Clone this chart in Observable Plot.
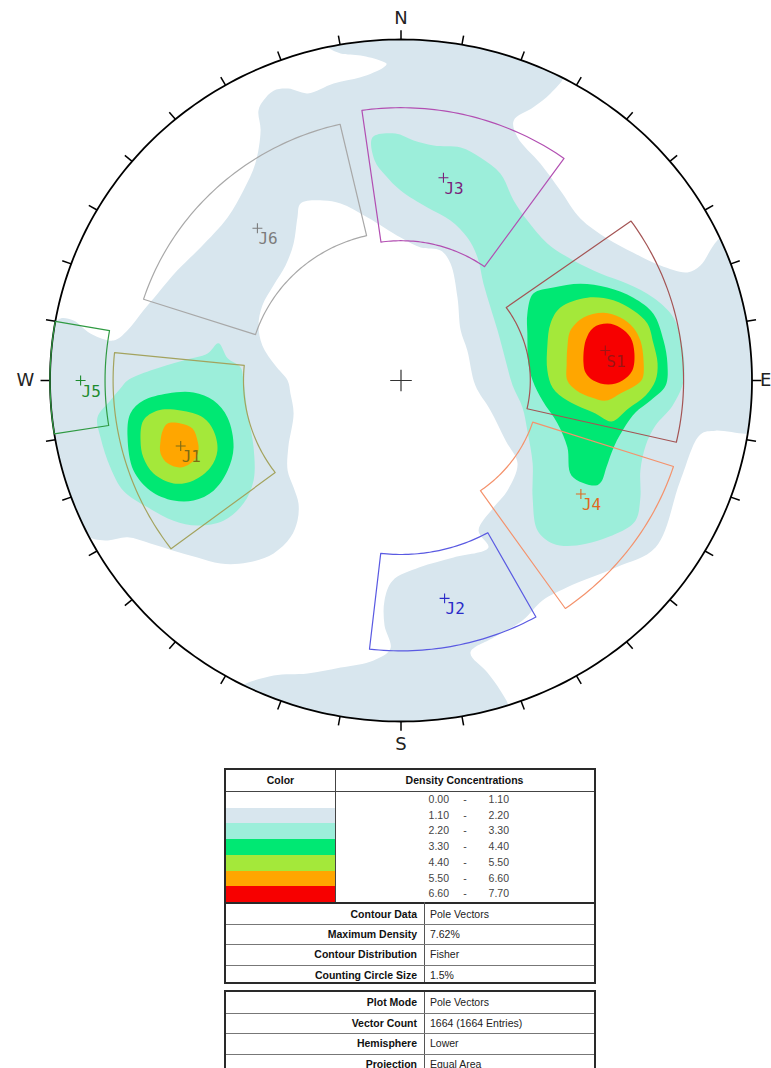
<!DOCTYPE html>
<html><head><meta charset="utf-8">
<script src="https://cdn.jsdelivr.net/npm/d3@7"></script>
<script src="https://cdn.jsdelivr.net/npm/@observablehq/plot@0.6"></script>
<style>
body{margin:0;background:#fff;font-family:"Liberation Sans",Arial,sans-serif;}
#chart{position:absolute;left:0;top:0;width:771px;height:766px;}
.tbl{position:absolute;box-sizing:border-box;border:2px solid #2a2a2a;background:#fff;overflow:hidden;}
.abs{position:absolute;box-sizing:border-box;}
.hd{font-weight:bold;font-size:10.5px;color:#111;text-align:center;}
.num{font-size:10.5px;color:#444;}
.lab{font-weight:bold;font-size:10.5px;color:#111;text-align:right;padding-right:7px;}
.val{font-size:10.5px;color:#222;padding-left:6px;}
</style></head><body>
<div id="chart"></div>
<div id="legend"></div>
<script>
// ---------- data ----------
const densityBreaks = [0.00, 1.10, 2.20, 3.30, 4.40, 5.50, 6.60, 7.70];
const densityColors = ["#ffffff", "#d8e6ee", "#9ceeda", "#00e873", "#a4e83a", "#ffa600", "#f70000"];

// contour outlines read from the net, equal-area net coordinates (percent of net radius, east / north)
// {rim:[t0,t1]} = follow the primitive circle clockwise from trend t0 to t1
const contour1 = [[
  {rim:[348, 27.5]},
  [42.6,84.2],[37.7,80.1],[32.1,76.2],[33.2,71.3],[39.7,63.6],[45.4,55.7],[51.1,47.5],[58.8,41.6],[66.2,37.5],[73.9,33.7],[81.6,31.7],[85.3,33.7],[89.0,39.6],
  {rim:[65.4, 98.9]},
  [89.6,-14.7],[85.3,-15.8],[79.6,-29.3],[72.5,-49.0],[61.4,-54.8],[47.2,-60.7],[40.3,-64.5],[34.6,-70.4],[26.4,-75.4],[19.8,-79.8],[24.6,-85.6],[28.3,-90.9],
  {rim:[162.3, 206.7]},
  [-36.3,-86.5],[-26.6,-85.9],[-17.2,-84.2],[-7.8,-82.1],[-3.0,-78.6],[-4.7,-71.8],[-4.7,-64.5],[-2.4,-58.7],[5.3,-54.8],[15.0,-51.9],[24.9,-49.0],[22.1,-44.0],[26.4,-37.2],[30.3,-32.3],[33.2,-24.3],[29.8,-17.6],[25.5,-8.8],[21.2,-1.5],[18.9,8.8],[17.0,14.7],[16.1,24.3],[14.1,34.3],[11.3,38.1],[5.6,39.0],[-0.1,41.9],[-9.5,47.8],[-17.2,51.9],[-22.1,52.8],[-28.6,51.9],[-29.5,47.8],[-30.6,40.2],[-32.9,33.7],[-36.3,27.9],[-39.5,22.0],[-40.6,16.1],[-39.5,10.3],[-35.8,4.4],[-32.3,0],[-31.5,-3.8],[-30.6,-9.7],[-32.1,-19.6],[-32.3,-26.4],[-30.6,-31.4],[-29.2,-36.1],[-29.5,-41.1],[-31.5,-46.0],[-36.3,-50.7],[-43.7,-53.4],[-51.4,-53.7],[-58.0,-51.9],[-64.8,-49.9],[-71.4,-47.8],[-77.9,-46.0],[-83.6,-46.9],
  {rim:[242.7, 279.7]},
  [-97.0,18.2],[-93.3,17.6],[-88.5,13.8],[-81.9,11.7],[-77.9,14.7],[-73.4,20.5],[-69.3,25.5],[-63.7,32.3],[-57.1,39.0],[-49.4,47.8],[-44.9,55.7],[-41.5,63.6],[-40.0,73.3],[-40.6,79.2],[-39.2,82.1],[-36.3,85.0],[-32.1,85.6],[-26.6,84.2],[-19.2,87.1],[-11.5,88.9],[-5.0,91.8],[-4.1,92.9],[-5.8,93.8],[-11.5,95.3],[-17.2,95.9]
]];
const contour2 = [
  [[-8.1,71.3],[-1.6,72.4],[3.6,70.4],[9.3,68.9],[17.0,68.3],[22.6,65.4],[28.3,60.7],[32.1,52.8],[36.0,46.9],[41.7,40.2],[49.1,35.2],[56.8,31.4],[64.5,28.4],[71.9,24.3],[77.6,18.5],[80.2,9.7],[80.5,0],[77.4,-7.3],[72.5,-13.2],[69.7,-19.1],[68.2,-26.4],[68.2,-34.3],[66.8,-41.1],[61.4,-44.9],[50.0,-48.4],[43.2,-47.8],[38.9,-44.0],[37.5,-34.3],[37.5,-24.3],[36.0,-14.7],[34.6,-7.9],[31.8,-1.5],[29.8,5.9],[27.5,14.7],[25.5,21.4],[23.5,28.4],[21.8,36.1],[18.9,41.9],[14.1,46.9],[7.5,50.7],[-0.1,55.7],[-4.4,60.1],[-7.5,64.5]],
  [[-77.9,0],[-71.4,2.9],[-62.0,5.9],[-55.1,7.9],[-52.0,10.9],[-49.4,6.5],[-45.7,3.8],[-44.9,0],[-43.7,-9.7],[-42.0,-19.6],[-42.0,-29.3],[-44.9,-36.1],[-50.6,-41.1],[-58.0,-42.5],[-64.8,-41.1],[-72.2,-37.2],[-79.1,-32.3],[-82.8,-25.5],[-85.6,-16.7],[-86.5,-10.9],[-82.8,-5.9],[-79.9,-2.3]]
];
const contour3 = [
  [[36.0,19.6],[37.7,25.5],[43.4,27.3],[51.1,28.4],[58.8,27.3],[66.2,24.3],[71.9,19.6],[74.8,11.7],[75.9,5.0],[75.4,-1.5],[71.1,-5.9],[66.8,-9.4],[64.0,-13.2],[60.8,-19.1],[58.5,-25.5],[57.1,-29.6],[55.4,-30.8],[48.6,-27.9],[47.4,-19.6],[44.6,-12.6],[40.3,-5.9],[37.5,0],[36.3,5.0],[36.0,13.8]],
  [[-77.9,-16.7],[-77.1,-9.7],[-73.4,-5.9],[-66.5,-3.8],[-59.1,-3.5],[-53.4,-5.9],[-49.4,-10.9],[-47.7,-19.6],[-49.4,-26.4],[-53.4,-32.3],[-59.1,-35.2],[-64.8,-35.2],[-71.4,-32.3],[-76.2,-26.4]]
];
const contour4 = [
  [[42.6,16.7],[45.4,21.4],[53.1,24.3],[60.5,23.5],[66.2,20.5],[70.2,16.7],[71.9,10.9],[73.1,5.0],[72.5,0],[69.7,-4.4],[64.8,-8.2],[60.0,-12.0],[55.4,-9.7],[47.4,-5.9],[43.2,-2.1],[41.7,2.9],[41.7,10.3]],
  [[-74.2,-17.6],[-73.4,-11.7],[-69.3,-8.8],[-62.8,-8.8],[-56.3,-10.9],[-53.4,-14.7],[-52.3,-20.5],[-54.3,-25.5],[-59.1,-29.3],[-64.8,-30.2],[-70.5,-27.3],[-73.4,-22.6]]
];
const contour5 = [
  [[47.4,9.7],[48.3,14.7],[52.0,18.5],[57.7,19.9],[62.5,18.5],[66.2,15.5],[68.2,11.7],[69.1,5.9],[68.8,0.6],[66.8,-1.5],[62.5,-3.8],[58.5,-5.9],[54.3,-5.0],[50.0,-2.9],[47.4,0],[47.2,5.0]],
  [[-68.5,-17.6],[-67.9,-14.7],[-66.5,-12.6],[-62.8,-12.6],[-59.4,-14.1],[-58.0,-17.6],[-57.7,-20.5],[-59.1,-23.5],[-62.8,-25.5],[-66.5,-24.3],[-68.5,-21.4]]
];
const contour6 = [
  [[52.0,5.0],[52.6,11.7],[54.8,15.5],[58.8,16.7],[62.5,15.5],[65.4,12.6],[66.5,7.9],[65.9,2.9],[63.1,0],[59.1,-1.2],[54.8,0],[52.6,2.3]]
];

// joint sets
const setNames = ["J1", "J2", "J3", "J4", "J5", "J6", "S1"];
const setPoleTrend = [253, 169, 11.5, 123, 270, 317.5, 81.4];
const setPolePlunge = [34.7, 35.2, 39.2, 38.8, 9.6, 39.3, 40.8];
const setWindowTrend = [[233, 275.7], [151, 186.5], [352, 395.5], [108, 145], [261, 280], [288, 347], [54.5, 103]];
const setWindowPlunge = [[19.1, 53.0], [21.8, 47.7], [21.1, 56.3], [19.5, 57.6], [0, 16.8], [23.9, 54.1], [20.6, 59.8]];
const setLineColors = ["#a3a35e", "#5a5ae2", "#b24fb2", "#f4926c", "#2f9a42", "#a8a8a8", "#a45454"];
const setLabelColors = ["#7d6c14", "#2a2ac8", "#7a1f7a", "#e0691e", "#1d8c2d", "#7c7c7c", "#9c1414"];

const compassTrend = [0, 90, 180, 270];
const compassLabels = ["N", "E", "S", "W"];
const tickTrends = d3.range(0, 360, 10);

const contourInfoLabels = ["Contour Data", "Maximum Density", "Contour Distribution", "Counting Circle Size"];
const contourInfoValues = ["Pole Vectors", "7.62%", "Fisher", "1.5%"];
const plotInfoLabels = ["Plot Mode", "Vector Count", "Hemisphere", "Projection"];
const plotInfoValues = ["Pole Vectors", "1664 (1664 Entries)", "Lower", "Equal Area"];

// ---------- geometry helpers (equal-area, lower hemisphere) ----------
const rad = Math.PI / 180;
function net(trend, plunge) {
  const r = 100 * Math.SQRT2 * Math.sin((90 - plunge) / 2 * rad);
  return [r * Math.sin(trend * rad), r * Math.cos(trend * rad)];
}
function rimArc(t0, t1, r = 100) {
  if (t1 < t0) t1 += 360;
  const pts = [];
  for (let t = t0; t < t1; t += 1) pts.push([r * Math.sin(t * rad), r * Math.cos(t * rad)]);
  pts.push([r * Math.sin(t1 * rad), r * Math.cos(t1 * rad)]);
  return pts;
}
function expand(poly) {
  const out = [];
  for (const p of poly) {
    if (Array.isArray(p)) out.push(p); else out.push(...rimArc(p.rim[0], p.rim[1]));
  }
  return out;
}
function windowPoly(tr, pl) {
  const pts = [];
  const [t0, t1] = tr, [p0, p1] = pl;
  const n = Math.ceil(t1 - t0);
  for (let i = 0; i <= n; i++) pts.push(net(t0 + (t1 - t0) * i / n, p0));
  for (let i = n; i >= 0; i--) pts.push(net(t0 + (t1 - t0) * i / n, p1));
  return pts;
}

const contours = [contour1, contour2, contour3, contour4, contour5, contour6];
const marks = [];
contours.forEach((polys, k) => {
  polys.forEach(poly => {
    marks.push(Plot.line(expand(poly), {x: d => d[0], y: d => d[1], fill: densityColors[k + 1], stroke: "none", curve: "catmull-rom-closed"}));
  });
});

// primitive circle and ticks
marks.push(Plot.line(rimArc(0, 359.99), {x: d => d[0], y: d => d[1], stroke: "#000", strokeWidth: 1.8, curve: "linear-closed"}));
marks.push(Plot.link(tickTrends, {
  x1: t => 100 * Math.sin(t * rad), y1: t => 100 * Math.cos(t * rad),
  x2: t => 102.7 * Math.sin(t * rad), y2: t => 102.7 * Math.cos(t * rad),
  stroke: "#000", strokeWidth: 1.5
}));
// compass letters (E sits at the right edge, as in the original)
const compassOffset = {N: 104.5, E: 105.5, S: 104.5, W: 104.5};
const compassAnchors = {N: ["middle", "bottom"], E: ["end", "middle"], S: ["middle", "top"], W: ["end", "middle"]};
compassTrend.forEach((t, i) => {
  const label = compassLabels[i];
  marks.push(Plot.text([{t, label}], {
    x: d => compassOffset[label] * Math.sin(d.t * rad), y: d => compassOffset[label] * Math.cos(d.t * rad),
    text: "label",
    textAnchor: compassAnchors[label][0],
    lineAnchor: compassAnchors[label][1],
    fontSize: 18, fill: "#222", fontFamily: "DejaVu Sans"
  }));
});
// set windows
setNames.forEach((name, i) => {
  marks.push(Plot.line(windowPoly(setWindowTrend[i], setWindowPlunge[i]), {
    x: d => d[0], y: d => d[1], stroke: setLineColors[i], strokeWidth: 1.2, curve: "linear-closed"
  }));
});
// centre cross
marks.push(Plot.dot([net(0, 90)], {x: d => d[0], y: d => d[1], symbol: "plus", r: 7, stroke: "#333", strokeWidth: 1.2}));
// set poles and labels
const poles = setNames.map((name, i) => {
  const [x, y] = net(setPoleTrend[i], setPolePlunge[i]);
  return {name, x, y, color: setLabelColors[i]};
});
marks.push(Plot.dot(poles, {x: "x", y: "y", symbol: "plus", r: 3.3, stroke: "color", strokeWidth: 1.1}));
marks.push(Plot.text(poles, {x: "x", y: "y", text: "name", fill: "color", textAnchor: "start", dx: 1, dy: 11, fontSize: 16, fontFamily: "DejaVu Sans Mono"}));

const chart = Plot.plot({
  width: 771, height: 766, margin: 0,
  x: {domain: [-100, 100], range: [49.5, 751.5], axis: null},
  y: {domain: [-100, 100], range: [721, 39], axis: null},
  color: {type: "identity"},
  style: {background: "white", overflow: "visible"},
  marks
});
document.getElementById("chart").appendChild(chart);

// ---------- legend tables ----------
const L = document.getElementById("legend");
function el(cls, css, html) {
  const d = document.createElement("div");
  d.className = cls; d.style.cssText = css; if (html != null) d.innerHTML = html;
  return d;
}
// table 1
const t1 = el("tbl", "left:224px;top:768px;width:372px;height:216px;");
L.appendChild(t1);
const hdH = 21, rowH = 15.7, colW = 109;
t1.appendChild(el("abs hd", `left:0;top:0;width:${colW}px;height:${hdH}px;line-height:${hdH}px;`, "Color"));
t1.appendChild(el("abs hd", `left:${colW}px;top:0;width:${368 - colW}px;height:${hdH}px;line-height:${hdH}px;`, "Density Concentrations"));
t1.appendChild(el("abs", `left:0;top:${hdH}px;width:368px;height:1px;background:#444;`));
t1.appendChild(el("abs", `left:${colW}px;top:0;width:1px;height:${hdH + 7 * rowH + 1}px;background:#444;`));
for (let i = 0; i < 7; i++) {
  const top = hdH + 1 + i * rowH;
  t1.appendChild(el("abs", `left:0;top:${top}px;width:${colW}px;height:${rowH + 0.5}px;background:${densityColors[i]};`));
  const f = v => v.toFixed(2);
  t1.appendChild(el("abs num", `left:180px;top:${top}px;width:43px;text-align:right;line-height:${rowH}px;`, f(densityBreaks[i])));
  t1.appendChild(el("abs num", `left:234px;top:${top}px;width:10px;text-align:center;line-height:${rowH}px;`, "-"));
  t1.appendChild(el("abs num", `left:240px;top:${top}px;width:43px;text-align:right;line-height:${rowH}px;`, f(densityBreaks[i + 1])));
}
const infoTop = hdH + 1 + 7 * rowH;
t1.appendChild(el("abs", `left:0;top:${infoTop}px;width:368px;height:2px;background:#2a2a2a;`));
const infoH = 20.2, infoCol = 198;
t1.appendChild(el("abs", `left:${infoCol}px;top:${infoTop}px;width:1px;height:90px;background:#555;`));
contourInfoLabels.forEach((lab, i) => {
  const top = infoTop + 2 + i * infoH;
  t1.appendChild(el("abs lab", `left:0;top:${top}px;width:${infoCol}px;height:${infoH}px;line-height:${infoH}px;`, lab));
  t1.appendChild(el("abs val", `left:${infoCol}px;top:${top}px;width:${368 - infoCol}px;height:${infoH}px;line-height:${infoH}px;`, contourInfoValues[i]));
  if (i > 0) t1.appendChild(el("abs", `left:0;top:${top}px;width:368px;height:1px;background:#777;`));
});
// table 2
const t2 = el("tbl", "left:224px;top:990px;width:372px;height:86px;");
L.appendChild(t2);
t2.appendChild(el("abs", `left:${infoCol}px;top:0;width:1px;height:90px;background:#555;`));
plotInfoLabels.forEach((lab, i) => {
  const top = i * 20.5;
  t2.appendChild(el("abs lab", `left:0;top:${top}px;width:${infoCol}px;height:20.5px;line-height:20.5px;`, lab));
  t2.appendChild(el("abs val", `left:${infoCol}px;top:${top}px;width:${368 - infoCol}px;height:20.5px;line-height:20.5px;`, plotInfoValues[i]));
  if (i > 0) t2.appendChild(el("abs", `left:0;top:${top}px;width:368px;height:1px;background:#777;`));
});
</script>
</body></html>
